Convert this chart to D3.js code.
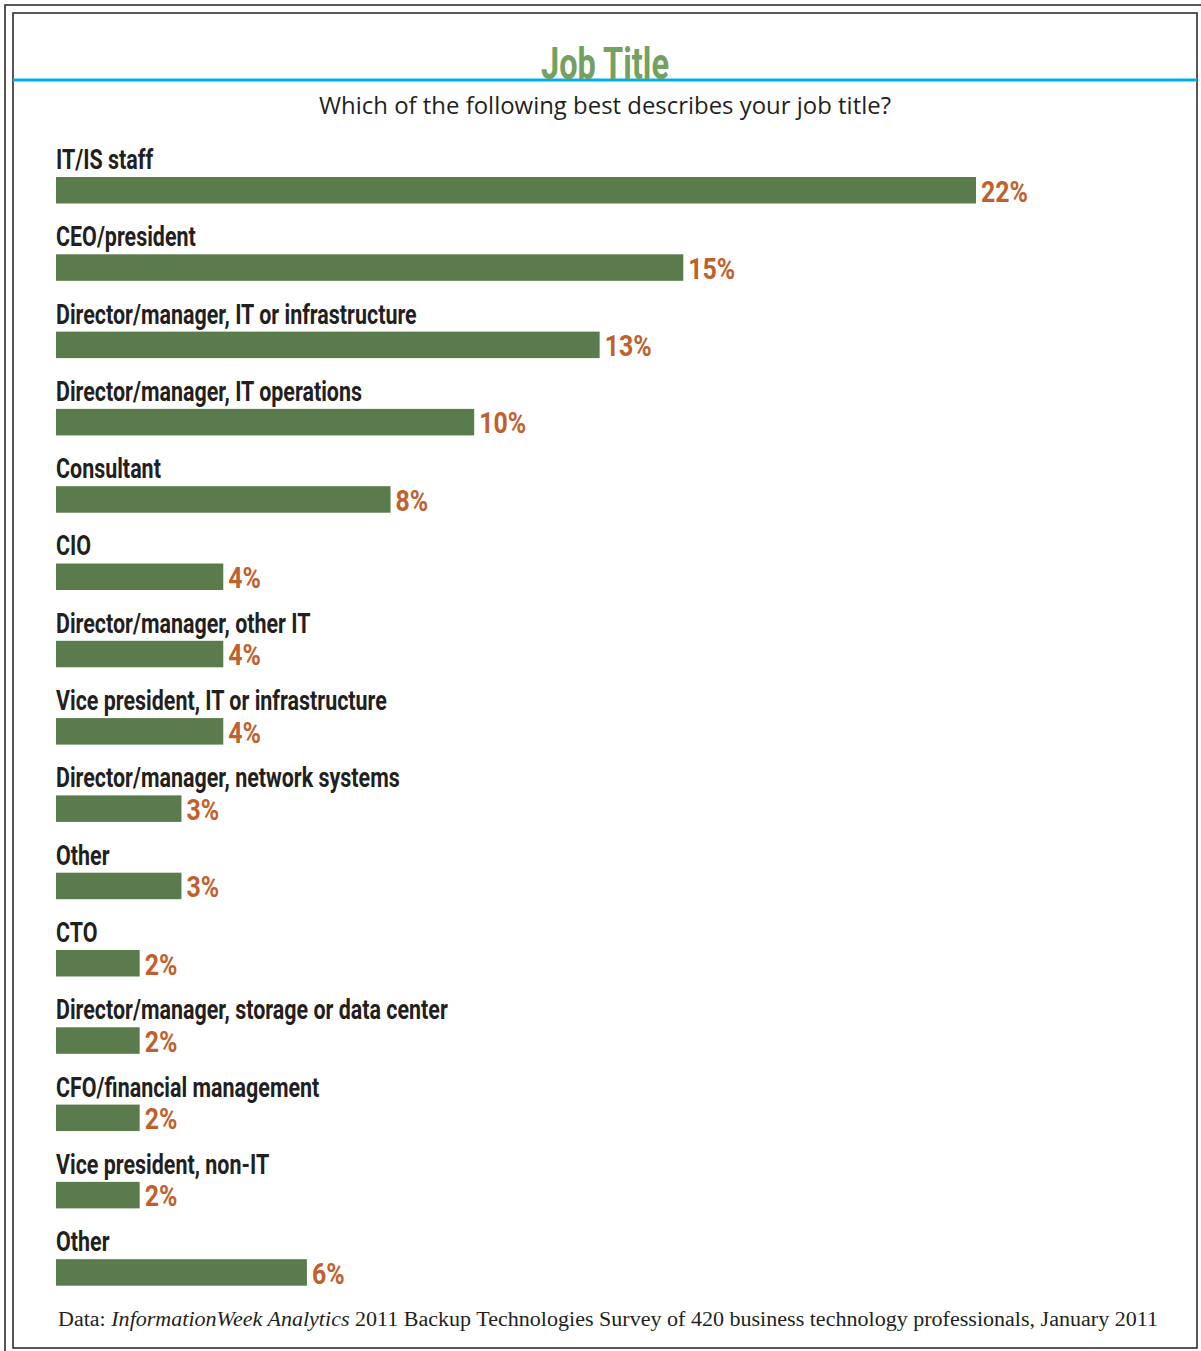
<!DOCTYPE html>
<html>
<head>
<meta charset="utf-8">
<script src="https://cdn.jsdelivr.net/npm/d3@7"></script>
<style>
  body { margin: 0; background: #fff; }
  svg { display: block; }
</style>
</head>
<body>
<svg id="chart" width="1201" height="1351"></svg>
<script>
// Survey responses: job title of respondents (share of respondents, %)
const categories = [
  "IT/IS staff",
  "CEO/president",
  "Director/manager, IT or infrastructure",
  "Director/manager, IT operations",
  "Consultant",
  "CIO",
  "Director/manager, other IT",
  "Vice president, IT or infrastructure",
  "Director/manager, network systems",
  "Other",
  "CTO",
  "Director/manager, storage or data center",
  "CFO/financial management",
  "Vice president, non-IT",
  "Other"
];
const values = [22, 15, 13, 10, 8, 4, 4, 4, 3, 3, 2, 2, 2, 2, 6];
const valueLabels = values.map(v => v + "%");

const titleText = "Job Title";
const subtitleText = "Which of the following best describes your job title?";
const sourceParts = [
  { text: "Data: ", italic: false },
  { text: "InformationWeek Analytics", italic: true },
  { text: " 2011 Backup Technologies Survey of 420 business technology professionals, January 2011", italic: false }
];

const W = 1201, H = 1351;
const svg = d3.select("#chart");

const ink = "#231f20";
const barColor = "#5a7b4b";
const valueColor = "#c0612d";
const titleColor = "#74a062";
const ruleColor = "#00aeef";
const condensedFont = "'Liberation Sans Narrow', Roboto, 'Noto Sans', sans-serif";

// frames
svg.append("rect").attr("x", 5).attr("y", 5).attr("width", 1210).attr("height", 1360)
  .attr("fill", "none").attr("stroke", ink).attr("stroke-width", 1.5);
svg.append("rect").attr("x", 13).attr("y", 13).attr("width", 1184).attr("height", 1335)
  .attr("fill", "#fff").attr("stroke", ink).attr("stroke-width", 1.5);

// header rule
svg.append("line").attr("x1", 13).attr("x2", 1197).attr("y1", 80).attr("y2", 80)
  .attr("stroke", ruleColor).attr("stroke-width", 3);

// squeeze a text horizontally so that it spans a given width
function squeeze(node, target) {
  const w = node.getComputedTextLength();
  return w > 0 ? target / w : 1;
}

const cx = 605;
const title = svg.append("text")
  .text(titleText)
  .attr("font-family", condensedFont)
  .attr("font-weight", 700)
  .attr("font-size", 45)
  .attr("fill", titleColor)
  .attr("text-anchor", "middle");
const kt = squeeze(title.node(), 128);
title.attr("transform", `translate(${cx},79) scale(${kt},1)`);

svg.append("text")
  .text(subtitleText)
  .attr("x", cx).attr("y", 114)
  .attr("font-family", "'Open Sans', 'Noto Sans', sans-serif")
  .attr("font-size", 23)
  .attr("fill", ink)
  .attr("text-anchor", "middle")
  .attr("textLength", 572)
  .attr("lengthAdjust", "spacingAndGlyphs");

// scales
const x = d3.scaleLinear().domain([0, 22]).range([56, 976]);
const y = d3.scaleBand().domain(d3.range(categories.length))
  .range([177, 1285.7]).paddingInner(0.657).paddingOuter(0);

const rows = svg.append("g").selectAll("g.row")
  .data(categories.map((c, i) => ({ c, v: values[i], lab: valueLabels[i], i })))
  .join("g").attr("class", "row");

rows.append("rect")
  .attr("x", x(0))
  .attr("y", d => y(d.i))
  .attr("width", d => x(d.v) - x(0))
  .attr("height", y.bandwidth())
  .attr("fill", barColor);

const catText = rows.append("text")
  .text(d => d.c)
  .attr("font-family", condensedFont)
  .attr("font-weight", 700)
  .attr("font-size", 27)
  .attr("fill", ink);
const kc = squeeze(catText.filter(d => d.i === 11).node(), 392);
catText.attr("transform", d => `translate(${x(0)},${y(d.i) - 8}) scale(${kc},1)`);

const valText = rows.append("text")
  .text(d => d.lab)
  .attr("font-family", condensedFont)
  .attr("font-weight", 700)
  .attr("font-size", 29)
  .attr("fill", valueColor);
const kv = squeeze(valText.filter(d => d.i === 0).node(), 47);
valText.attr("transform", d => `translate(${x(d.v) + 5},${y(d.i) + y.bandwidth() - 2}) scale(${kv},1)`);

// source line
const src = svg.append("text")
  .attr("x", 58).attr("y", 1326)
  .attr("font-family", "'Liberation Serif', 'DejaVu Serif', serif")
  .attr("font-size", 20)
  .attr("fill", ink)
  .attr("textLength", 1100)
  .attr("lengthAdjust", "spacingAndGlyphs");
src.selectAll("tspan").data(sourceParts).join("tspan")
  .text(d => d.text)
  .attr("font-style", d => d.italic ? "italic" : "normal");
</script>
</body>
</html>
